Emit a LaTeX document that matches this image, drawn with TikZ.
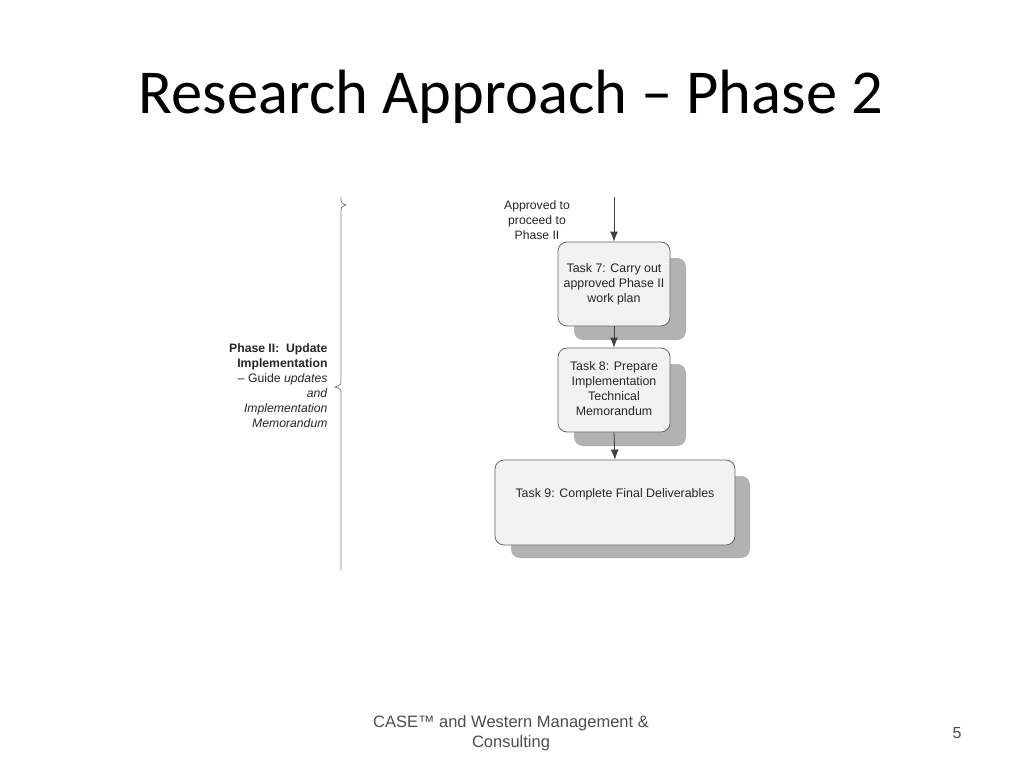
\documentclass[tikz,border=0pt]{standalone}
\usepackage{fontspec}
\setmainfont{Liberation Sans}
\newfontfamily\titlefont{Carlito}
\usetikzlibrary{arrows.meta}
\begin{document}
\begin{tikzpicture}[x=1pt,y=-1pt,
  task/.style={draw=black!60,line width=0.8pt,fill=black!5,rounded corners=9pt,inner sep=0pt},
  lbl/.style={font=\fontsize{12.4}{15}\selectfont,align=center,text=black!85},
  shad/.style={fill=black!30,rounded corners=9pt},
  arr/.style={-{Latex[length=10pt,width=8pt]},black!75,line width=0.8pt}]
\useasboundingbox (0,0) rectangle (1024,768);
\node[font=\titlefont\fontsize{62.5}{70}\selectfont] (title) at (511,97) {Research Approach – Phase 2};
% shadows
\fill[shad] (574,258) rectangle (686,340);
\fill[shad] (574,364) rectangle (686,446);
\fill[shad] (511,476) rectangle (750,558);
\node[task,minimum width=112pt,minimum height=84pt] (t7) at (614,284) {};
\node[lbl] at (614,284) {Task 7: Carry out\\approved Phase II\\work plan};
\node[task,minimum width=112pt,minimum height=84pt] (t8) at (614,390) {};
\node[lbl] at (614,389) {Task 8: Prepare\\Implementation\\Technical\\Memorandum};
\node[task,minimum width=240pt,minimum height=85pt] (t9) at (615,502.5) {};
\node[lbl] at (615,494) {Task 9: Complete Final Deliverables};
\coordinate (top) at (614,197);
\draw[arr] (top) -- (t7.north);
\draw[arr] (t7.south) -- (t8.north);
\draw[arr] (t8.south) -- (t9.north);
\node[lbl,font=\fontsize{12.2}{15}\selectfont] (appr) at (537,220) {Approved to\\proceed to\\Phase II};
\draw[black!50,line width=0.8pt] (341,197) .. controls (341,203) .. (346,205) .. controls (341,207) .. (341,213) -- (341,380) .. controls (341,385) .. (335,387) .. controls (341,389) .. (341,394) -- (341,570);
\node[font=\fontsize{12.2}{15}\selectfont,align=right,anchor=east,text=black!85] (ph) at (331,386) {\textbf{Phase II:\ \ Update}\\\textbf{Implementation}\\– Guide \textit{updates}\\\textit{and}\\\textit{Implementation}\\\textit{Memorandum}};
\node[font=\fontsize{16.5}{20}\selectfont,align=center,text=black!70] (foot) at (511,733) {CASE™ and Western Management \&\\Consulting};
\node[font=\fontsize{16}{20}\selectfont,text=black!70] (pg) at (957,733) {5};
\end{tikzpicture}
\end{document}
